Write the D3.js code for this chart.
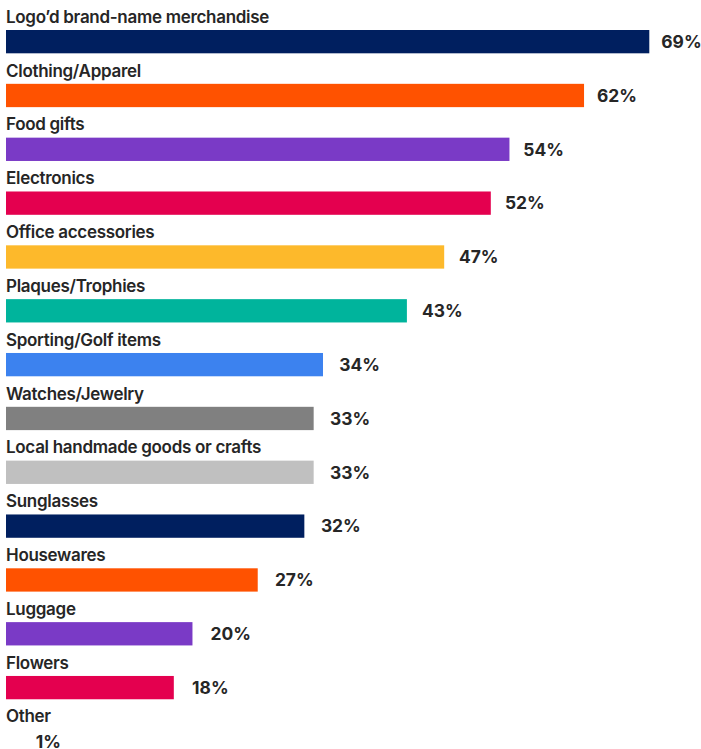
<!DOCTYPE html>
<html>
<head>
<meta charset="utf-8">
<script src="https://cdn.jsdelivr.net/npm/d3@7"></script>
<style>
  html, body { margin: 0; padding: 0; background: #ffffff; }
  svg { display: block; }
  text { font-family: Inter, "Noto Sans", sans-serif; }
</style>
</head>
<body>
<svg id="chart" width="701" height="749"></svg>
<script>
const categories = [
  "Logo\u2019d brand-name merchandise",
  "Clothing/Apparel",
  "Food gifts",
  "Electronics",
  "Office accessories",
  "Plaques/Trophies",
  "Sporting/Golf items",
  "Watches/Jewelry",
  "Local handmade goods or crafts",
  "Sunglasses",
  "Housewares",
  "Luggage",
  "Flowers",
  "Other"
];
const values = [69, 62, 54, 52, 47, 43, 34, 33, 33, 32, 27, 20, 18, 1];
const colors = [
  "#001f5f", "#ff5200", "#7a3ac6", "#e4004f", "#fdb92b", "#00b49c",
  "#3c82ef", "#808080", "#c0c0c0", "#001f5f", "#ff5200", "#7a3ac6",
  "#e4004f", "#ffffff"
];
const valueLabels = values.map(v => v + "%");

const svg = d3.select("#chart");
const x = d3.scaleLinear().domain([0, 69]).range([6, 649.3]);
const xLabel = d3.scaleLinear().domain([0, 69]).range([26.5, 661.3]);
const step = 53.83;
const y = d3.scaleBand()
  .domain(categories)
  .range([30, 30 + step * (categories.length - 0.567)])
  .paddingInner(0.567)
  .paddingOuter(0);

const rows = svg.selectAll("g.row")
  .data(categories)
  .join("g")
  .attr("class", "row");

rows.append("text")
  .attr("x", 6)
  .attr("y", d => y(d) - 7.3)
  .attr("font-size", 17)
  .attr("font-weight", 600)
  .attr("fill", "#262626")
  .attr("letter-spacing", "-0.3")
  .text(d => d);

rows.append("rect")
  .attr("x", x(0))
  .attr("y", d => y(d))
  .attr("width", (d, i) => x(values[i]) - x(0))
  .attr("height", y.bandwidth())
  .attr("fill", (d, i) => colors[i]);

rows.append("text")
  .attr("x", (d, i) => xLabel(values[i]))
  .attr("y", d => y(d) + y.bandwidth() / 2)
  .attr("dy", "0.36em")
  .attr("font-size", 17.4)
  .attr("font-weight", 700)
  .attr("fill", "#262626")
  .text((d, i) => valueLabels[i]);
</script>
</body>
</html>
